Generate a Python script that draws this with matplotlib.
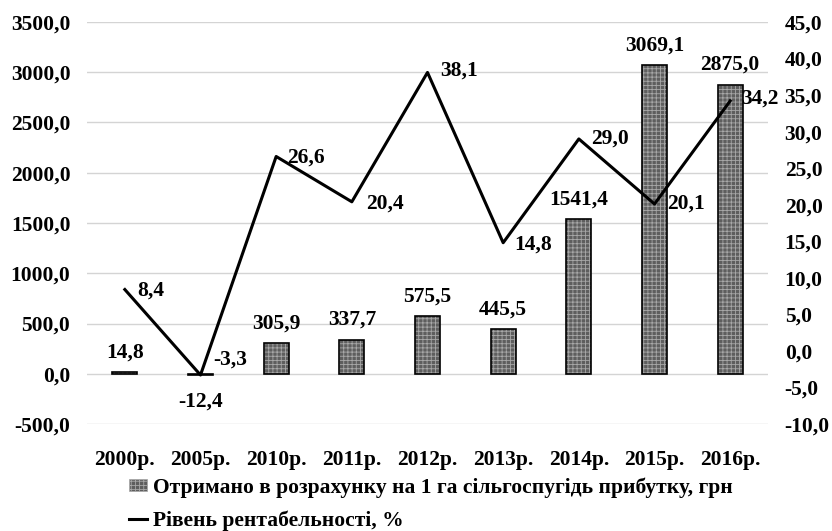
import matplotlib
matplotlib.use("Agg")
import matplotlib.pyplot as plt
from matplotlib.ticker import FuncFormatter, FixedLocator
from matplotlib.patches import Patch
from matplotlib.lines import Line2D

categories = ["2000р.", "2005р.", "2010р.", "2011р.", "2012р.", "2013р.", "2014р.", "2015р.", "2016р."]
profit = [14.8, -12.4, 305.9, 337.7, 575.5, 445.5, 1541.4, 3069.1, 2875.0]
profitability = [8.4, -3.3, 26.6, 20.4, 38.1, 14.8, 29.0, 20.1, 34.2]
left_ticks = [-500, 0, 500, 1000, 1500, 2000, 2500, 3000, 3500]
right_ticks = [-10, -5, 0, 5, 10, 15, 20, 25, 30, 35, 40, 45]
bar_label = "Отримано в розрахунку на 1 га сільгоспугідь прибутку, грн"
line_label = "Рівень рентабельності, %"

FS = 15.5
plt.rcParams['font.family'] = ['Liberation Serif', 'DejaVu Serif']
plt.rcParams['font.weight'] = 'bold'
plt.rcParams['hatch.linewidth'] = 0.6

fig = plt.figure(figsize=(8.32, 5.31), dpi=100)
W, H = 832, 531
L, R, T, B = 87, 768, 22, 424
ax = fig.add_axes([L / W, 1 - B / H, (R - L) / W, (B - T) / H])
ax2 = ax.twinx()

x = list(range(len(categories)))
bw = 0.33
face = '#5e5e5e'
hatchc = '#a8a8a8'
ax.bar(x, profit, width=bw, color=face, edgecolor=hatchc, hatch='++++', linewidth=0, zorder=2)
ax.bar(x, profit, width=bw, color='none', edgecolor='black', linewidth=1.2, zorder=3)

ax.set_ylim(-500, 3500)
ax.set_xlim(-0.5, len(categories) - 0.5)
ax.yaxis.set_major_locator(FixedLocator(left_ticks))
fmt = FuncFormatter(lambda v, p: f"{v:.1f}".replace('.', ','))
ax.yaxis.set_major_formatter(fmt)
ax.grid(axis='y', color='#d4d4d4', linewidth=1.0, zorder=0)
ax.set_axisbelow(True)
ax.set_xticks(x)
ax.set_xticklabels(categories)
for s in ax.spines.values():
    s.set_visible(False)
for s in ax2.spines.values():
    s.set_visible(False)
ax.tick_params(axis='y', length=0, labelsize=FS, pad=12)
ax.tick_params(axis='x', length=0, labelsize=FS, pad=19)
for lbl in ax.get_xticklabels() + ax.get_yticklabels():
    lbl.set_fontweight('bold')

ax2.plot(x, profitability, color='black', linewidth=2.2, zorder=4)
ax2.set_ylim(-10, 45)
ax2.yaxis.set_major_locator(FixedLocator(right_ticks))
ax2.yaxis.set_major_formatter(fmt)
ax2.tick_params(axis='y', length=0, labelsize=FS, pad=12)
for lbl in ax2.get_yticklabels():
    lbl.set_fontweight('bold')

# bar labels
for xi, v in zip(x, profit):
    s = f"{v:.1f}".replace('.', ',')
    if v >= 0:
        ax.annotate(s, (xi, v), xytext=(0, 7), textcoords='offset points', ha='center', va='bottom',
                    fontsize=FS, fontweight='bold')
    else:
        ax.annotate(s, (xi, 0), xytext=(0, -13), textcoords='offset points', ha='center', va='top',
                    fontsize=FS, fontweight='bold')

# line labels
offsets = [(9, -1), (9, 11), (8, -1), (10, -1), (9, 1), (8, -1), (9, 0), (9, 0), (8, 2)]
for xi, v, (dx, dy) in zip(x, profitability, offsets):
    s = f"{v:.1f}".replace('.', ',')
    ax2.annotate(s, (xi, v), xytext=(dx, dy), textcoords='offset points', ha='left', va='center',
                 fontsize=FS, fontweight='bold', zorder=5)

handles = [Patch(facecolor=face, edgecolor=hatchc, hatch='++++', linewidth=0.5),
           Line2D([0], [0], color='black', linewidth=2.2)]
fs_px = FS * 100 / 72
leg = fig.legend(handles, [bar_label, line_label], loc='upper left',
                 bbox_to_anchor=(129 / W, 1 - 477 / H),
                 frameon=False, prop={'family': ['Liberation Serif'], 'weight': 'bold', 'size': FS},
                 handlelength=18 / fs_px, handleheight=0.5, handletextpad=6 / fs_px,
                 labelspacing=0.6, borderpad=0, borderaxespad=0)

fig.savefig("out.png", dpi=100)
